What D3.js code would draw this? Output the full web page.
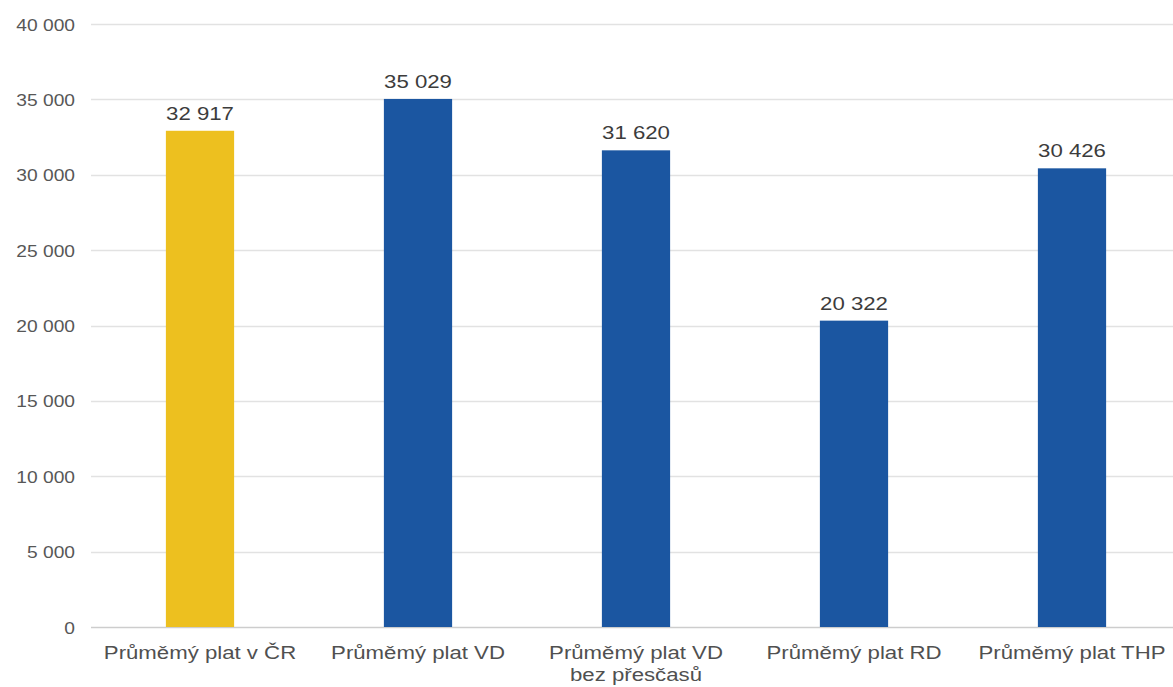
<!DOCTYPE html>
<html>
<head>
<meta charset="utf-8">
<script src="https://cdn.jsdelivr.net/npm/d3@7"></script>
<style>
  html, body { margin: 0; padding: 0; background: #fff; }
  svg { display: block; font-family: "Liberation Sans", Arial, sans-serif; }
</style>
</head>
<body>
<svg id="chart" width="1173" height="687"></svg>
<script>
const categories = [
  ["Průměmý plat v ČR"],
  ["Průměmý plat VD"],
  ["Průměmý plat VD", "bez přesčasů"],
  ["Průměmý plat RD"],
  ["Průměmý plat THP"]
];
const values = [32917, 35029, 31620, 20322, 30426];
const barColors = ["#EDC01F", "#1B56A1", "#1B56A1", "#1B56A1", "#1B56A1"];
const yTicks = [0, 5000, 10000, 15000, 20000, 25000, 30000, 35000, 40000];

const fmtSp = v => d3.format(",d")(v).replace(/,/g, " ");
const SX = 1.2; // horizontal stretch of the text as seen in the reference

const svg = d3.select("#chart");
const plotLeft = 91, plotRight = 1181, plotTop = 24, plotBottom = 627;

const x = d3.scaleBand().domain(d3.range(values.length)).range([plotLeft, plotRight]).paddingInner(0.687).paddingOuter(0.3435);
const y = d3.scaleLinear().domain([0, 40000]).range([plotBottom, plotTop]);

// gridlines
svg.append("g").selectAll("line").data(yTicks).join("line")
  .attr("x1", plotLeft).attr("x2", 1173)
  .attr("y1", d => Math.round(y(d)) + 0.5).attr("y2", d => Math.round(y(d)) + 0.5)
  .attr("stroke", d => d === 0 ? "#cdcdcd" : "#e2e2e2").attr("stroke-width", 1.3);

// y axis labels
const yAxis = d3.axisLeft(y).tickValues(yTicks).tickFormat(fmtSp).tickSize(0).tickPadding(0);
const yg = svg.append("g").attr("transform", "translate(75,1)").call(yAxis);
yg.select(".domain").remove();
yg.selectAll("text")
  .attr("fill", "#575757")
  .style("font-size", "16px")
  .style("font-family", "'Liberation Sans', Arial, sans-serif")
  .attr("transform", `scale(${SX},1)`);

// bars
svg.append("g").selectAll("rect").data(values).join("rect")
  .attr("x", (d, i) => x(i)).attr("width", x.bandwidth())
  .attr("y", d => y(d)).attr("height", d => y(0) - y(d))
  .attr("fill", (d, i) => barColors[i]);

// value labels
svg.append("g").selectAll("text").data(values).join("text")
  .attr("transform", (d, i) => `translate(${x(i) + x.bandwidth() / 2},${y(d) - 11}) scale(${SX},1)`)
  .attr("text-anchor", "middle")
  .attr("fill", "#3c3c3c").style("font-size", "18.5px")
  .text(d => fmtSp(d));

// x labels
const xl = svg.append("g").selectAll("text").data(categories).join("text")
  .attr("transform", (d, i) => `translate(${x(i) + x.bandwidth() / 2},659) scale(${SX},1)`)
  .attr("text-anchor", "middle")
  .attr("fill", "#505050").style("font-size", "18.5px");
xl.selectAll("tspan").data(d => d).join("tspan")
  .attr("x", 0)
  .attr("dy", (d, j) => j === 0 ? 0 : 22)
  .text(d => d);
</script>
</body>
</html>
